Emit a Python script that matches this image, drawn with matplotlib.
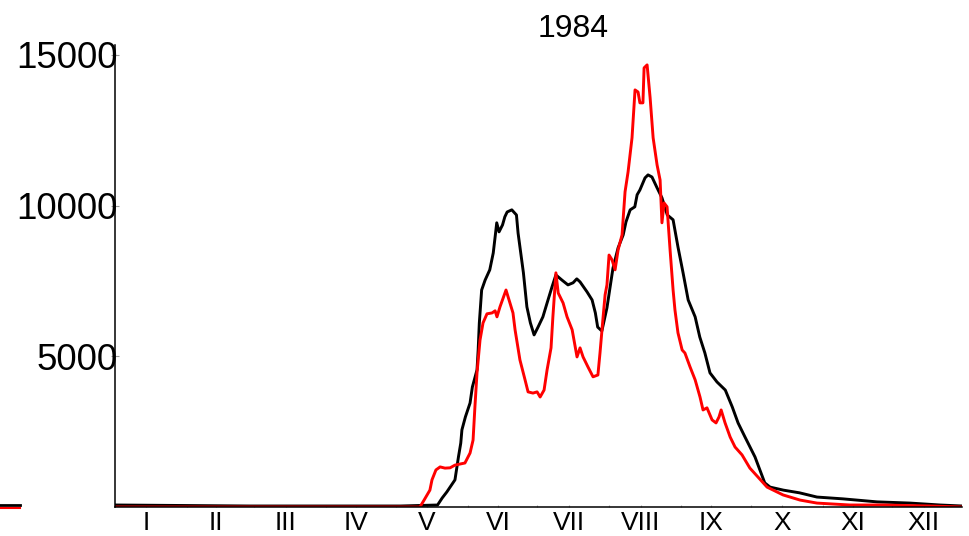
import matplotlib
matplotlib.use('Agg')
import matplotlib.pyplot as plt
from matplotlib.lines import Line2D
from matplotlib.ticker import FixedLocator

# day of year (1984) and daily values
black_days = [1, 59, 124, 140, 142, 144, 147.5, 149, 150, 150.5, 152, 154, 155, 157, 157.5,
              158, 159, 160.5, 162.5, 164, 165, 165.5, 166.5, 168, 169, 170, 172, 174, 174.7,
              175.5, 177, 178.5, 180, 181.6, 183.3, 185.4, 187.2, 189.3, 191, 193.6, 196.2,
              198.4, 200, 201.4, 204.4, 206.6, 208, 209, 210.8, 213, 214.3, 215.6, 217.8, 220,
              221.2, 223, 225, 226, 227.2, 229.4, 230.7, 232.4, 234.6, 236.7, 239, 241.5,
              243.6, 245.8, 248, 251, 253, 255.2, 257.4, 260.4, 264, 267, 269.5, 272.5, 276.8,
              281, 283.3, 289, 296, 303.5, 314.7, 329.4, 343.6, 356.5, 366]
black_vals = [66, 33, 33, 66, 300, 500, 900, 1660, 2120, 2560, 2990, 3450, 3980, 4550, 5210,
              6110, 7200, 7530, 7870, 8430, 9090, 9430, 9130, 9360, 9630, 9790, 9860, 9690, 9090,
              8630, 7770, 6640, 6110, 5710, 5970, 6310, 6770, 7300, 7700, 7530, 7370,
              7440, 7570, 7470, 7140, 6870, 6440, 5970, 5840, 6610, 7270, 7930, 8600, 9030,
              9460, 9860, 9960, 10360, 10520, 10920, 11020, 10950, 10590, 10260, 9690, 9530,
              8630, 7770, 6870, 6310, 5640, 5110, 4450, 4150, 3880, 3320, 2790, 2320, 1660,
              800, 660, 560, 470, 330, 270, 170, 130, 66, 33]

red_days = [1, 132.4, 134.2, 136.7, 137.6, 139.3, 141.1, 143.2, 145.4, 147.5, 151.8, 154, 155.3,
            156.1, 157, 158.3, 159.6, 161.3, 163.5, 164.8, 165.6, 166.9, 169.5, 171.2, 172.5,
            173.4, 175.5, 177.7, 179, 181.1, 182.9, 184.2, 185.9, 187.2, 188.9, 189.7, 191, 192,
            194.1, 195.8, 198, 200.1, 201.4, 202.7, 204.8, 207, 209.1, 210, 211.3, 212.2, 213,
            213.9, 215.2, 216.5, 217.8, 219.5, 220.8, 222.1, 223.8, 225.1, 226.4, 227.2, 228.5,
            229, 230.3, 231.6, 232.9, 234.6, 235.9, 236.7, 237.6, 238.9, 240.2, 241.5, 242.3,
            243.6, 245.4, 246.6, 248.8, 251, 253.1, 254.4, 256.1, 258.3, 260, 261.3, 262.2,
            263.9, 266.1, 268.2, 271.2, 274.6, 282, 288.9, 296.2, 303.5, 317.7, 331.9, 352.2, 366]
red_vals = [0, 0, 230, 560, 900, 1230, 1330, 1290, 1300, 1390, 1460, 1790, 2220,
            3320, 4450, 5540, 6110, 6410, 6440, 6510, 6310, 6640, 7200, 6770, 6440,
            5880, 4880, 4220, 3820, 3780, 3820, 3650, 3880, 4550, 5280, 6310, 7770, 7100,
            6770, 6310, 5880, 4980, 5280, 4980, 4650, 4320, 4380, 5110, 6270, 7040, 7370,
            8360, 8200, 7870, 8530, 9030, 10460, 11120, 12250, 13840, 13770, 13410, 13410,
            14570, 14670, 13580, 12250, 11350, 10850, 9430, 10090, 9960, 8530, 7200, 6540,
            5780, 5210, 5110, 4650, 4220, 3650, 3220, 3290, 2890, 2790, 2990, 3220,
            2790, 2320, 1990, 1730, 1290, 660, 400, 230, 130, 66, 66, 33, 0]

month_labels = ['I', 'II', 'III', 'IV', 'V', 'VI', 'VII', 'VIII', 'IX', 'X', 'XI', 'XII']
month_len = [31, 29, 31, 30, 31, 30, 31, 31, 30, 31, 30, 31]

month_start = [1]
for n in month_len[:-1]:
    month_start.append(month_start[-1] + n)
# labels sit a little before the middle of each month
label_pos = [s + n / 2 - 2 for s, n in zip(month_start, month_len)]

plt.rcParams['font.family'] = ['Liberation Sans', 'DejaVu Sans']

fig = plt.figure(figsize=(9.69, 5.36), dpi=100)
ax = fig.add_axes([115 / 969, 29 / 536, 847 / 969, 462 / 536])

ax.plot(black_days, black_vals, color='black', lw=2.1)
ax.plot(red_days, red_vals, color='#ff0000', lw=2.1)

ax.set_xlim(1, 366)
ax.set_ylim(0, 15330)

ax.spines['top'].set_visible(False)
ax.spines['right'].set_visible(False)
ax.spines['left'].set_linewidth(1.1)
ax.spines['bottom'].set_linewidth(1.1)

ax.set_yticks([5000, 10000, 15000])
ax.set_yticklabels(['5000', '10000', '15000'], fontsize=26.5)
ax.tick_params(axis='y', direction='inout', length=6, width=0.8, color='#999999', pad=-5.2)

ax.xaxis.set_major_locator(FixedLocator(label_pos))
ax.xaxis.set_minor_locator(FixedLocator(month_start))
ax.set_xticklabels(month_labels, fontsize=19)
ax.tick_params(axis='x', which='both', direction='in', length=1.5, width=0.8,
               color='#aaaaaa', pad=3)

fig.text(573 / 969, 1 - 29 / 536, '1984', ha='center', va='center', fontsize=23)

# stray legend handles on the left edge
fig.add_artist(Line2D([0, 20 / 969], [1 - 504.5 / 536] * 2, color='black', lw=2))
fig.add_artist(Line2D([0, 20 / 969], [1 - 507.5 / 536] * 2, color='#ff0000', lw=1.5))

plt.savefig('out.png', dpi=100)
